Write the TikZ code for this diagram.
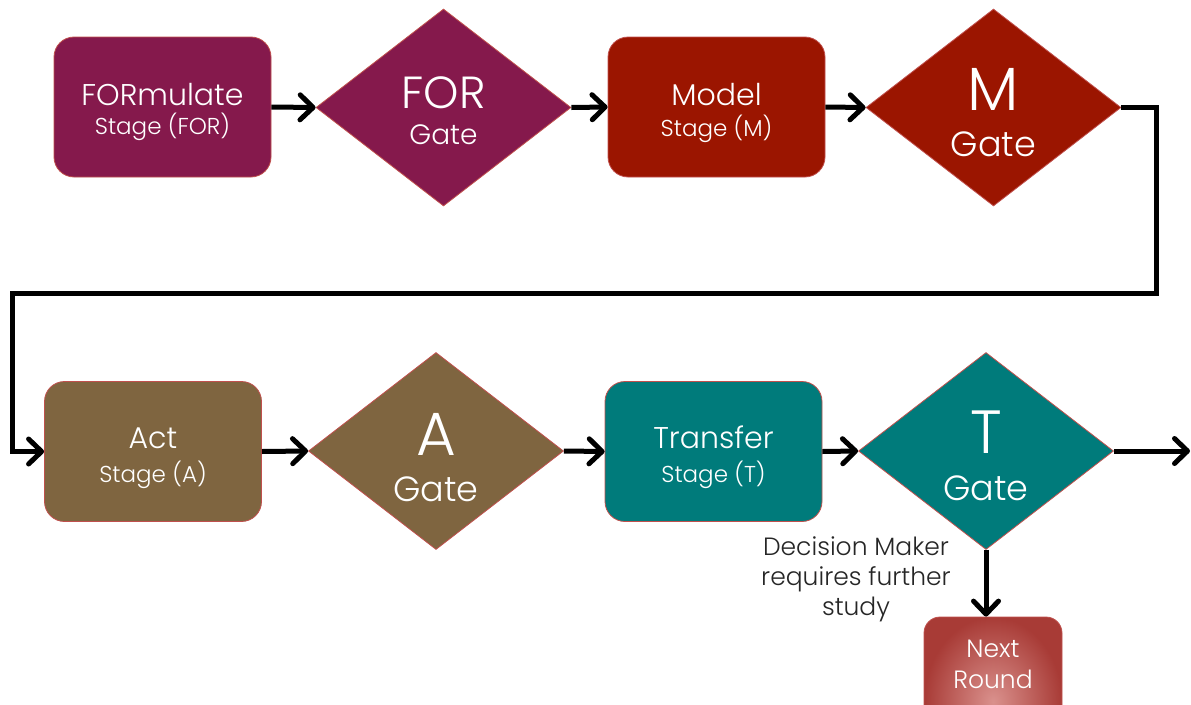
\documentclass[tikz,border=0pt]{standalone}
\usepackage{fontspec}
\setmainfont{Poppins}[UprightFont=* Light]
\usetikzlibrary{shapes.geometric,arrows.meta}

\definecolor{forcol}{HTML}{85194C}
\definecolor{modcol}{HTML}{9B1500}
\definecolor{actcol}{HTML}{7F6540}
\definecolor{trncol}{HTML}{007B7B}
\definecolor{edgecol}{HTML}{C0504D}
\definecolor{notecol}{HTML}{262626}
\definecolor{nextin}{HTML}{DA918D}
\definecolor{nextout}{HTML}{A83B36}

\tikzset{
  stagebox/.style={draw=edgecol, line width=0.8pt, rounded corners=20pt,
    minimum width=217pt, minimum height=140pt, inner sep=0pt},
  gatebox/.style={draw=edgecol, line width=0.8pt, diamond, shape aspect=1.29,
    minimum width=255pt, minimum height=197pt, inner sep=0pt},
  bigtxt/.style={text=white, font=\fontsize{30}{31}\selectfont, anchor=base, inner sep=0pt},
  smalltxt/.style={text=white, font=\fontsize{23}{24}\selectfont, anchor=base, inner sep=0pt},
  lettertxt/.style={text=white, font=\fontsize{61}{61}\selectfont, anchor=base, inner sep=0pt},
  gatetxt/.style={text=white, font=\fontsize{35}{35}\selectfont, anchor=base, inner sep=0pt},
  flow/.style={line width=5pt, -{Straight Barb[length=13pt,width=25pt,round]}}
}

\begin{document}
\begin{tikzpicture}[x=1pt,y=-1pt]
\useasboundingbox (0,0) rectangle (1191,704);
\clip (0,0) rectangle (1191,704);

% top row
\node[stagebox, fill=forcol] (fs) at (162.5,107) {};
\node[gatebox, fill=forcol] (fg) at (443.5,107.5) {};
\node[stagebox, fill=modcol] (ms) at (716.5,107) {};
\node[gatebox, fill=modcol] (mg) at (993.5,107.5) {};

% bottom row
\node[stagebox, fill=actcol] (as) at (153,451.5) {};
\node[gatebox, fill=actcol] (ag) at (436,451) {};
\node[stagebox, fill=trncol] (ts) at (713.5,451.5) {};
\node[gatebox, fill=trncol] (tg) at (986,451) {};

% next round box, running off the lower edge
\node[draw=edgecol, line width=0.8pt, rounded corners=16pt, inner sep=0pt,
      minimum width=138pt, minimum height=170pt,
      inner color=nextin, outer color=nextout] (nr) at (993,702) {};

% labels in the stage boxes (yshift points up, so negative moves down)
\node[bigtxt]   (fs1) at ([yshift=2pt]fs.center) {FORmulate};
\node[smalltxt] (fs2) at ([yshift=-27pt]fs.center) {Stage (FOR)};
\node[bigtxt]   (ms1) at ([yshift=2pt]ms.center) {Model};
\node[smalltxt] (ms2) at ([yshift=-29pt]ms.center) {Stage (M)};
\node[bigtxt]   (as1) at ([yshift=3pt]as.center) {Act};
\node[smalltxt] (as2) at ([yshift=-31pt]as.center) {Stage (A)};
\node[bigtxt]   (ts1) at ([yshift=3pt]ts.center) {Transfer};
\node[smalltxt] (ts2) at ([yshift=-31pt]ts.center) {Stage (T)};

% labels in the gates
\node[lettertxt, font=\fontsize{45}{45}\selectfont] (fg1) at ([yshift=-1pt]fg.center) {FOR};
\node[gatetxt, font=\fontsize{28}{28}\selectfont]   (fg2) at ([yshift=-37pt]fg.center) {Gate};
\node[lettertxt] (mg1) at ([yshift=-3pt]mg.center) {M};
\node[gatetxt]   (mg2) at ([yshift=-49pt]mg.center) {Gate};
\node[lettertxt] (ag1) at ([yshift=-4pt]ag.center) {A};
\node[gatetxt]   (ag2) at ([yshift=-50pt]ag.center) {Gate};
\node[lettertxt] (tg1) at ([yshift=-2pt]tg.center) {T};
\node[gatetxt]   (tg2) at ([yshift=-49pt]tg.center) {Gate};

% next round label (anchored on the last line's baseline)
\node[text=white, font=\fontsize{25}{31}\selectfont, align=center, anchor=base,
      inner sep=0pt] (nrt) at (993,688) {Next\\Round};

% decision note (anchored on the last line's baseline)
\node[text=notecol, font=\fontsize{25}{30}\selectfont, align=center, anchor=base,
      inner sep=0pt] (note) at (856,615) {Decision Maker\\requires further\\study};

% connectors
\draw[flow] (fs.east) -- (fg.west);
\draw[flow] (fg.east) -- (ms.west);
\draw[flow] (ms.east) -- (mg.west);
\coordinate (r1) at (1156,107.5);
\coordinate (r2) at (1156,293);
\coordinate (l1) at (12,293);
\coordinate (l2) at (12,451.5);
\draw[flow, line join=miter] (mg.east) -- (r1) -- (r2) -- (l1) -- (l2) -- (as.west);
\draw[flow] (as.east) -- (ag.west);
\draw[flow] (ag.east) -- (ts.west);
\draw[flow] (ts.east) -- (tg.west);
\coordinate (exit) at (1190,451);
\draw[flow] (tg.east) -- (exit);
\draw[flow] (tg.south) -- (tg.south |- nr.north);
\end{tikzpicture}
\end{document}
